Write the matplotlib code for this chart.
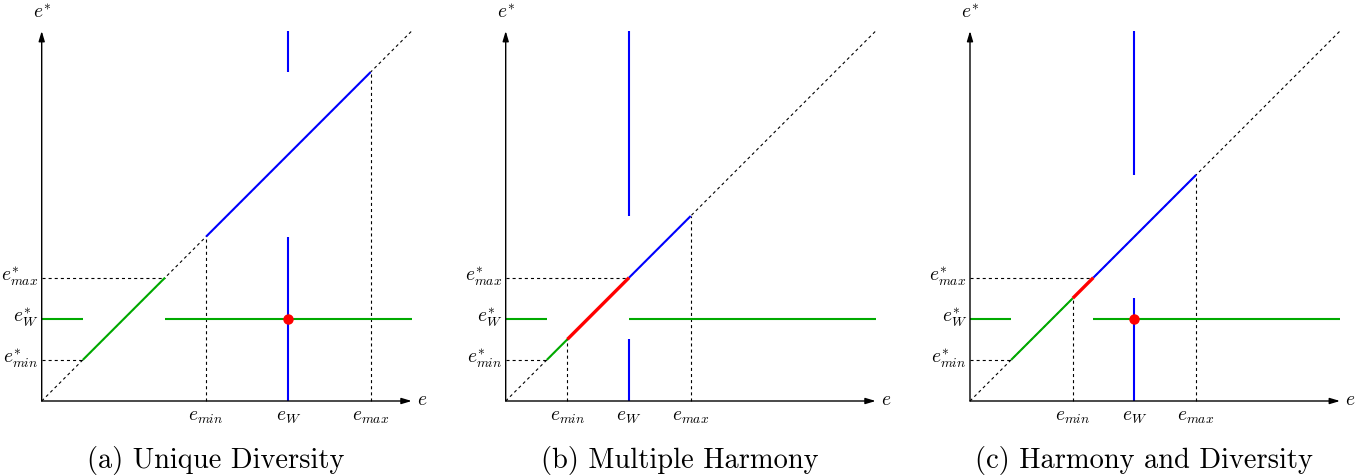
import matplotlib
matplotlib.use("Agg")
import matplotlib.pyplot as plt

plt.rcParams['mathtext.fontset'] = 'cm'
plt.rcParams['lines.scale_dashes'] = False
plt.rcParams['lines.solid_capstyle'] = 'butt'

# ---- data (diagram units) ----
captions = ["(a) Unique Diversity", "(b) Multiple Harmony", "(c) Harmony and Diversity"]
axis_len = 9.0
estar_min = [1.0, 1.0, 1.0]
estar_W = [2.0, 2.0, 2.0]
estar_max = [3.0, 3.0, 3.0]
e_min = [4.0, 1.5, 2.5]
e_W = [6.0, 3.0, 4.0]
e_max = [8.0, 4.5, 5.5]
green_left_end = [1.0, 1.0, 1.0]
green_right_start = [3.0, 3.0, 3.0]
green_diag = [(1.0, 3.0), (1.0, 1.5), (1.0, 2.5)]
red_diag = [None, (1.5, 3.0), (2.5, 3.0)]
blue_diag = [(4.0, 8.0), (3.0, 4.5), (3.0, 5.5)]
blue_vert_low = [(0.0, 4.0), (0.0, 1.5), (0.0, 2.5)]
blue_vert_high = [(8.0, 9.0), (4.5, 9.0), (5.5, 9.0)]
red_dot = [True, False, True]

origins_px = [41.7, 505.7, 970.0]   # x pixel of origin for each panel
oy_px = 401.0
W, H = 1359, 476
s = 370.0 / 9.0   # pixels per unit

GREEN = '#00aa00'
BLUE = '#0000ff'
RED = '#ff0000'
DASH = (0, (2.2, 2.2))
FS = 14

fig = plt.figure(figsize=(W / 100, H / 100), dpi=100)

xlo, xhi, ylo, yhi = -1.0, 10.0, -1.8, 9.7
for i in range(3):
    ox = origins_px[i]
    left = (ox + xlo * s) / W
    width = (xhi - xlo) * s / W
    bottom = (H - (oy_px - ylo * s)) / H
    height = (yhi - ylo) * s / H
    ax = fig.add_axes([left, bottom, width, height])
    ax.set_xlim(xlo, xhi)
    ax.set_ylim(ylo, yhi)
    ax.axis('off')

    # diagonal dotted
    ax.plot([0, axis_len], [0, axis_len], color='black', lw=0.8, ls=DASH, zorder=1)
    # dashed guides
    ax.plot([0, estar_min[i]], [estar_min[i], estar_min[i]], color='black', lw=0.8, ls=DASH, zorder=1)
    ax.plot([0, estar_max[i]], [estar_max[i], estar_max[i]], color='black', lw=0.8, ls=DASH, zorder=1)
    ax.plot([e_min[i], e_min[i]], [0, e_min[i]], color='black', lw=0.8, ls=DASH, zorder=1)
    ax.plot([e_max[i], e_max[i]], [0, e_max[i]], color='black', lw=0.8, ls=DASH, zorder=1)

    # green horizontal
    ax.plot([0, green_left_end[i]], [estar_W[i], estar_W[i]], color=GREEN, lw=1.5, zorder=3)
    ax.plot([green_right_start[i], axis_len], [estar_W[i], estar_W[i]], color=GREEN, lw=1.5, zorder=3)
    # green diag
    g0, g1 = green_diag[i]
    ax.plot([g0, g1], [g0, g1], color=GREEN, lw=1.5, zorder=3)
    # red diag
    if red_diag[i] is not None:
        r0, r1 = red_diag[i]
        ax.plot([r0, r1], [r0, r1], color=RED, lw=2.4, zorder=4)
    # blue diag
    b0, b1 = blue_diag[i]
    ax.plot([b0, b1], [b0, b1], color=BLUE, lw=1.5, zorder=3)
    # blue verticals
    v0, v1 = blue_vert_low[i]
    ax.plot([e_W[i], e_W[i]], [v0, v1], color=BLUE, lw=1.5, zorder=3)
    v0, v1 = blue_vert_high[i]
    ax.plot([e_W[i], e_W[i]], [v0, v1], color=BLUE, lw=1.5, zorder=3)
    if red_dot[i]:
        ax.plot([e_W[i]], [estar_W[i]], 'o', color=RED, ms=6.5, zorder=5)

    # axes arrows
    ax.annotate('', xy=(axis_len, 0), xytext=(0, 0),
                arrowprops=dict(arrowstyle='-|>,head_length=0.6,head_width=0.18', lw=1.0,
                                color='black', shrinkA=0, shrinkB=0), zorder=6)
    ax.annotate('', xy=(0, axis_len), xytext=(0, 0),
                arrowprops=dict(arrowstyle='-|>,head_length=0.6,head_width=0.18', lw=1.0,
                                color='black', shrinkA=0, shrinkB=0), zorder=6)

    # axis labels
    ax.text(0, 9.3, r'$e^{*}$', ha='center', va='baseline', fontsize=FS)
    ax.text(9.25, -0.1, r'$e$', ha='center', va='baseline', fontsize=FS)

    # tick labels
    for xv, lab in zip([e_min[i], e_W[i], e_max[i]], [r'$e_{min}$', r'$e_W$', r'$e_{max}$']):
        ax.text(xv, -0.48, lab, ha='center', va='baseline', fontsize=FS)
    for yv, lab in zip([estar_max[i], estar_W[i], estar_min[i]],
                       [r'$e^{*}_{max}$', r'$e^{*}_W$', r'$e^{*}_{min}$']):
        ax.text(-0.08, yv - 0.1, lab, ha='right', va='baseline', fontsize=FS)

    # caption
    ax.text(4.24, -1.44, captions[i], ha='center', va='center', fontsize=20.5, family='cmr10')

fig.savefig('out.png', dpi=100)
